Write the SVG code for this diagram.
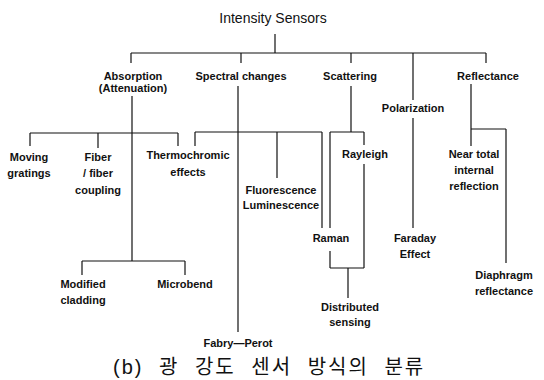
<svg xmlns="http://www.w3.org/2000/svg" width="544" height="380" viewBox="0 0 544 380">
<style>
.bg{fill:#fff}
.c line{stroke:#111;stroke-width:1.2;fill:none}
.l{font-family:"Liberation Sans",Arial,sans-serif;font-size:11px;font-weight:bold;fill:#111;text-anchor:middle}
.t{font-family:"Liberation Sans",Arial,sans-serif;font-size:14px;fill:#111;text-anchor:middle}
.cap{font-family:"Liberation Sans","Noto Sans CJK KR",sans-serif;font-size:20px;fill:#111;text-anchor:start;letter-spacing:2px;word-spacing:8px}
</style>
<rect class="bg" x="0" y="0" width="544" height="380"/>
<g id="connectors" class="c">
<line x1="275" y1="34" x2="275" y2="53"/>
<line x1="131" y1="53" x2="486" y2="53"/>
<line x1="131" y1="53" x2="131" y2="63"/>
<line x1="241" y1="53" x2="241" y2="63"/>
<line x1="351" y1="53" x2="351" y2="63"/>
<line x1="413" y1="53" x2="413" y2="100"/>
<line x1="486" y1="53" x2="486" y2="63"/>
<line x1="132" y1="96" x2="132" y2="261"/>
<line x1="30" y1="133" x2="178" y2="133"/>
<line x1="30" y1="133" x2="30" y2="146"/>
<line x1="98" y1="133" x2="98" y2="148"/>
<line x1="178" y1="133" x2="178" y2="146"/>
<line x1="82" y1="261" x2="185" y2="261"/>
<line x1="82" y1="261" x2="82" y2="275"/>
<line x1="185" y1="261" x2="185" y2="275"/>
<line x1="238" y1="86" x2="238" y2="332"/>
<line x1="195" y1="132" x2="322" y2="132"/>
<line x1="195" y1="132" x2="195" y2="146"/>
<line x1="277" y1="132" x2="277" y2="178"/>
<line x1="322" y1="132" x2="322" y2="228"/>
<line x1="351" y1="86" x2="351" y2="132"/>
<line x1="330" y1="132" x2="364" y2="132"/>
<line x1="330" y1="132" x2="330" y2="228"/>
<line x1="364" y1="132" x2="364" y2="145"/>
<line x1="364" y1="164" x2="364" y2="268"/>
<line x1="330" y1="251" x2="330" y2="268"/>
<line x1="330" y1="268" x2="364" y2="268"/>
<line x1="348" y1="268" x2="348" y2="298"/>
<line x1="413" y1="118" x2="413" y2="228"/>
<line x1="471" y1="84" x2="471" y2="146"/>
<line x1="471" y1="129" x2="506" y2="129"/>
<line x1="506" y1="129" x2="506" y2="263"/>
</g>
<g id="root"><text class="t" x="273" y="23">Intensity Sensors</text></g>
<g id="absorption"><text class="l" x="133" y="80">Absorption</text><text class="l" x="133" y="92">(Attenuation)</text></g>
<g id="spectral"><text class="l" x="241" y="80">Spectral changes</text></g>
<g id="scattering"><text class="l" x="350" y="80">Scattering</text></g>
<g id="polarization"><text class="l" x="413" y="112">Polarization</text></g>
<g id="reflectance"><text class="l" x="488" y="80">Reflectance</text></g>
<g id="moving"><text class="l" x="29" y="161">Moving</text><text class="l" x="29" y="177">gratings</text></g>
<g id="fiber"><text class="l" x="98" y="161">Fiber</text><text class="l" x="98" y="177">/ fiber</text><text class="l" x="98" y="194">coupling</text></g>
<g id="thermo"><text class="l" x="188" y="159">Thermochromic</text><text class="l" x="188" y="176">effects</text></g>
<g id="fluor"><text class="l" x="281" y="194">Fluorescence</text><text class="l" x="281" y="209">Luminescence</text></g>
<g id="rayleigh"><text class="l" x="365" y="158">Rayleigh</text></g>
<g id="neartotal"><text class="l" x="474" y="158">Near total</text><text class="l" x="474" y="174">internal</text><text class="l" x="474" y="190">reflection</text></g>
<g id="raman"><text class="l" x="331" y="242">Raman</text></g>
<g id="faraday"><text class="l" x="415" y="242">Faraday</text><text class="l" x="415" y="258">Effect</text></g>
<g id="diaphragm"><text class="l" x="504" y="279">Diaphragm</text><text class="l" x="504" y="295">reflectance</text></g>
<g id="modified"><text class="l" x="83" y="288">Modified</text><text class="l" x="83" y="304">cladding</text></g>
<g id="microbend"><text class="l" x="185" y="288">Microbend</text></g>
<g id="distributed"><text class="l" x="350" y="311">Distributed</text><text class="l" x="350" y="326">sensing</text></g>
<g id="fabry"><text class="l" x="238" y="347">Fabry—Perot</text></g>
<g id="caption"><text class="cap" x="113" y="374">(b) 광 강도 센서 방식의 분류</text></g>
</svg>
